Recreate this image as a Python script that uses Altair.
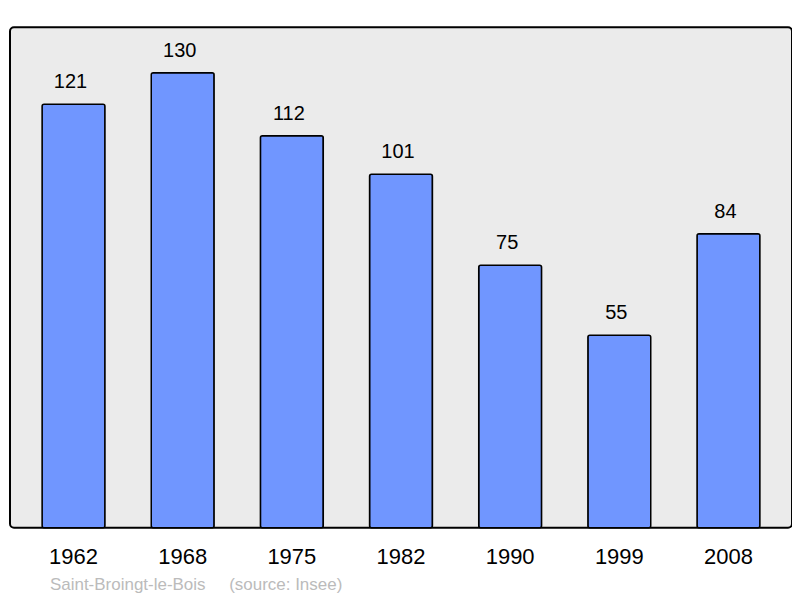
import altair as alt
import pandas as pd

years = ["1962", "1968", "1975", "1982", "1990", "1999", "2008"]
population = [121, 130, 112, 101, 75, 55, 84]

df = pd.DataFrame({"year": years, "pop": population})

x = alt.X("year:N", sort=years, title=None,
          scale=alt.Scale(paddingInner=0.424, paddingOuter=0.294),
          axis=alt.Axis(labelAngle=0, labelFontSize=22, labelColor="#000",
                        labelFont="Liberation Sans", labelPadding=19,
                        domain=False, ticks=False, grid=False))
y = alt.Y("pop:Q", title=None, scale=alt.Scale(domain=[0, 143], nice=False, zero=True),
          axis=None)

bars = alt.Chart(df).mark_bar(color="#7096ff", stroke="#000", strokeWidth=1.5,
                              cornerRadius=2).encode(x=x, y=y)
labels = alt.Chart(df).mark_text(baseline="bottom", dy=-12, dx=-3, fontSize=20,
                                 font="Liberation Sans", color="#000").encode(
    x=x, y=y, text="pop:Q")

chart = (bars + labels).properties(
    width=783, height=501,
    autosize=alt.AutoSizeParams(type="none"),
    padding={"left": 2, "top": 19, "right": 0, "bottom": 70},
    title=alt.TitleParams("Saint-Broingt-le-Bois\u00a0\u00a0\u00a0\u00a0\u00a0(source: Insee)",
                          orient="bottom", anchor="start", fontSize=17,
                          fontWeight="normal", font="Liberation Sans",
                          color="#bbbbbb", dx=40, offset=9),
).configure(background="#ffffff"
).configure_view(fill="#ebebeb", stroke="#000", strokeWidth=2, cornerRadius=4)

chart.save("out.html", embed_options={"renderer": "svg", "actions": False})
